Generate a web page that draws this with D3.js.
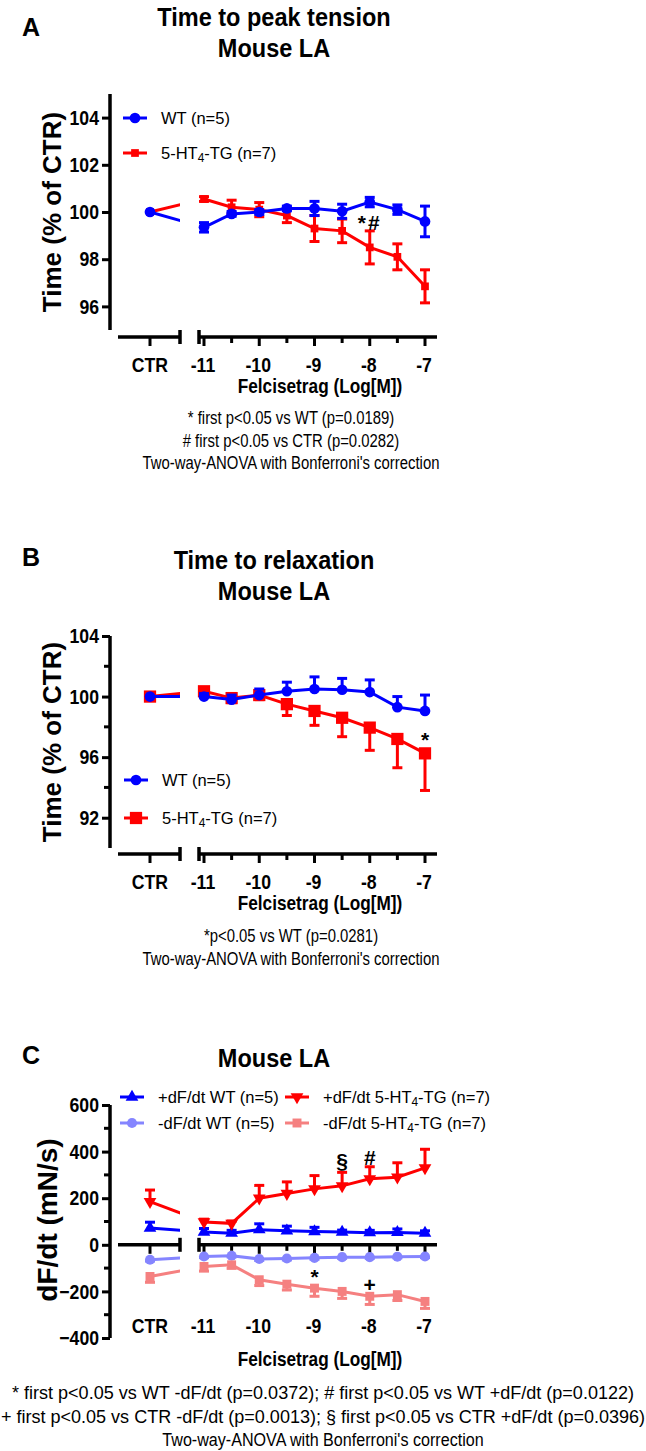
<!DOCTYPE html>
<html>
<head>
<meta charset="utf-8">
<script src="https://cdn.jsdelivr.net/npm/d3@7"></script>
<style>
  body { margin: 0; background: #fff; }
  text { font-family: "Liberation Sans", Arial, sans-serif; fill: #000; }
</style>
</head>
<body>
<div class="chart"></div>
<script>
// doses: CTR first, then log concentrations of felcisetrag
var doses = ["CTR", -11, -10.5, -10, -9.5, -9, -8.5, -8, -7.5, -7];
var concTicks = [-11, -10, -9, -8, -7];
var concMinor = [-10.5, -9.5, -8.5, -7.5];

// Panel A: time to peak tension (% of CTR)
var ttpWT = [100, 99.35, 99.92, 100.0, 100.15, 100.15, 100.03, 100.42, 100.1, 99.6];
var ttpWTerr = [0, 0.2, 0.1, 0.1, 0.1, 0.3, 0.3, 0.2, 0.2, 0.65];
var ttpTG = [100, 100.55, 100.2, 100.1, 99.85, 99.3, 99.2, 98.5, 98.1, 96.85];
var ttpTGerr = [0, 0.1, 0.3, 0.3, 0.3, 0.55, 0.5, 0.7, 0.55, 0.7];

// Panel B: time to relaxation (% of CTR)
var ttrWT = [100, 100.0, 99.8, 100.1, 100.35, 100.5, 100.45, 100.3, 99.3, 99.05];
var ttrWTerr = [0, 0.2, 0.3, 0.4, 0.6, 0.8, 0.75, 0.8, 0.7, 1.05];
var ttrTG = [100, 100.35, 99.9, 100.1, 99.5, 99.05, 98.6, 97.95, 97.2, 96.25];
var ttrTGerr = [0, 0.2, 0.3, 0.3, 0.75, 0.95, 1.25, 1.5, 1.9, 2.45];

// Panel C: dF/dt (mN/s)
var posWT = [72, 55, 50, 65, 60, 57, 55, 52, 53, 50];
var posWTerr = [25, 15, 12, 25, 20, 18, 8, 10, 15, 10];
var posTG = [185, 98, 92, 200, 220, 240, 253, 283, 290, 330];
var posTGerr = [50, 12, 10, 55, 50, 57, 58, 52, 62, 80];
var negWT = [-64, -50, -47, -61, -59, -56, -53, -53, -51, -50];
var negWTerr = [6, 5, 5, 6, 6, 6, 5, 5, 5, 5];
var negTG = [-136, -93, -86, -150, -169, -186, -200, -221, -214, -243];
var negTGerr = [25, 20, 15, 25, 25, 35, 30, 35, 25, 30];

var svg = d3.select(".chart").append("svg")
  .attr("width", 646)
  .attr("height", 1451);

svg.append("defs").append("clipPath")
  .attr("id", "ctrClip")
  .append("rect")
  .attr("x", 0).attr("y", 0).attr("width", 180).attr("height", 1451);

// shared x placement: CTR on its own segment, concentrations on a linear scale
var ctrX = 150;
var xConc = d3.scaleLinear().domain([-11, -7]).range([204, 425]);
function xPos(d) { return d === "CTR" ? ctrX : xConc(d); }

var BLUE = "#0000ff", RED = "#ff0000", LBLUE = "#8585ff", LRED = "#f58080";

function markerPath(type, size) {
  var sym = type === "circle" ? d3.symbolCircle : type === "square" ? d3.symbolSquare : d3.symbolTriangle;
  return d3.symbol().type(sym).size(size)();
}

// the original figure's type is a bit narrow: squeeze text horizontally
function condense(sel, k) {
  sel.each(function () {
    var len = this.getComputedTextLength();
    d3.select(this).attr("textLength", len * k).attr("lengthAdjust", "spacingAndGlyphs");
  });
}

// text with a "4" subscript in 5-HT4
function addLabel(sel, str) {
  var parts = str.split("HT4");
  if (parts.length === 1) { sel.text(str); return; }
  sel.append("tspan").text(parts[0] + "HT");
  sel.append("tspan").attr("baseline-shift", "-22%").attr("font-size", "0.72em").text("4");
  sel.append("tspan").text(parts[1]);
}

function drawPanel(p) {
  var g = svg.append("g");
  var y = d3.scaleLinear().domain(p.yDomain).range(p.yRange);

  // panel letter + title
  g.append("text").attr("x", 22).attr("y", p.letterY).attr("dy", "0.36em")
    .attr("font-size", 25).attr("font-weight", "bold").text(p.letter);
  p.title.forEach(function (t, i) {
    g.append("text").attr("x", 274).attr("y", p.titleY + i * 31).attr("dy", "0.36em")
      .attr("text-anchor", "middle").attr("font-size", 25).attr("font-weight", "bold").text(t)
      .call(condense, 0.94);
  });

  // y axis
  var yAxis = d3.axisLeft(y).tickValues(p.yTicks).tickSize(8).tickPadding(3).tickFormat(d3.format("d"));
  var ya = g.append("g").attr("transform", "translate(110,0)").call(yAxis);
  ya.select(".domain").attr("stroke-width", 3.5).attr("d", "M0," + y(p.yDomain[0]) + "V" + y(p.yDomain[1]));
  ya.selectAll(".tick line").attr("stroke-width", 3);
  ya.selectAll(".tick text").attr("font-size", 21).attr("font-weight", "bold")
    .attr("font-family", "'Liberation Sans', Arial, sans-serif").call(condense, 0.84);
  p.yMinor.forEach(function (v) {
    g.append("line").attr("x1", 104).attr("x2", 110).attr("y1", y(v)).attr("y2", y(v))
      .attr("stroke", "#000").attr("stroke-width", 3);
  });

  // y title
  g.append("text")
    .attr("transform", "translate(" + p.yTitleX + "," + p.yTitleY + ") rotate(-90)")
    .attr("text-anchor", "middle").attr("dy", "0.36em")
    .attr("font-size", p.yTitleSize).attr("font-weight", "bold").text(p.yTitle);

  // broken x axis
  var ax = p.xAxisY !== undefined ? p.xAxisY : y(0);
  var xa = g.append("g").attr("stroke", "#000");
  xa.append("line").attr("x1", 118).attr("x2", 180).attr("y1", ax).attr("y2", ax).attr("stroke-width", 3.5);
  xa.append("line").attr("x1", 199).attr("x2", 437).attr("y1", ax).attr("y2", ax).attr("stroke-width", 3.5);
  [180, 199].forEach(function (cx) {
    xa.append("line").attr("x1", cx).attr("x2", cx).attr("y1", ax - 7).attr("y2", ax + 7).attr("stroke-width", 3.5);
  });
  ["CTR"].concat(concTicks).forEach(function (d) {
    xa.append("line").attr("x1", xPos(d)).attr("x2", xPos(d)).attr("y1", ax).attr("y2", ax + 9).attr("stroke-width", 3);
  });
  concMinor.forEach(function (d) {
    xa.append("line").attr("x1", xPos(d)).attr("x2", xPos(d)).attr("y1", ax).attr("y2", ax + 6).attr("stroke-width", 3);
  });
  ["CTR"].concat(concTicks).forEach(function (d) {
    g.append("text").attr("x", xPos(d) + (d === "CTR" ? 0 : -1)).attr("y", p.xLabelY).attr("dy", "0.36em")
      .attr("text-anchor", "middle").attr("font-size", 21).attr("font-weight", "bold").text(d)
      .call(condense, 0.84);
  });
  g.append("text").attr("x", 320).attr("y", p.xTitleY).attr("dy", "0.36em")
    .attr("text-anchor", "middle").attr("font-size", 21).attr("font-weight", "bold").text("Felcisetrag (Log[M])")
    .call(condense, 0.82);

  // series
  p.series.forEach(function (s) {
    var sg = g.append("g");
    var pts = doses.map(function (d, i) { return { d: d, v: s.values[i], e: s.errors[i] }; });
    var line = d3.line().x(function (q) { return xPos(q.d); }).y(function (q) { return y(q.v); });

    // CTR -> -11 connection, cut at the axis break
    sg.append("path").datum(pts.slice(0, 2)).attr("d", line).attr("clip-path", "url(#ctrClip)")
      .attr("fill", "none").attr("stroke", s.color).attr("stroke-width", 3);
    sg.append("path").datum(pts.slice(1)).attr("d", line)
      .attr("fill", "none").attr("stroke", s.color).attr("stroke-width", 3);

    // error bars
    pts.forEach(function (q) {
      if (!q.e) return;
      var dirs = s.errDir === "both" ? [1, -1] : s.errDir === "up" ? [1] : [-1];
      dirs.forEach(function (k) {
        var ye = y(q.v + k * q.e);
        sg.append("line").attr("x1", xPos(q.d)).attr("x2", xPos(q.d)).attr("y1", y(q.v)).attr("y2", ye)
          .attr("stroke", s.color).attr("stroke-width", 3);
        sg.append("line").attr("x1", xPos(q.d) - 5).attr("x2", xPos(q.d) + 5).attr("y1", ye).attr("y2", ye)
          .attr("stroke", s.color).attr("stroke-width", 3);
      });
    });

    // markers
    sg.selectAll("path.m").data(pts).enter().append("path")
      .attr("class", "m")
      .attr("d", markerPath(s.marker, s.size))
      .attr("transform", function (q) {
        return "translate(" + xPos(q.d) + "," + y(q.v) + ")" + (s.flip ? " rotate(180)" : "");
      })
      .attr("fill", s.color);
  });

  // significance marks
  p.marks.forEach(function (m) {
    g.append("text").attr("x", xPos(m.dose)).attr("y", y(m.value)).attr("dy", "0.36em")
      .attr("text-anchor", "middle").attr("font-size", 21).attr("font-weight", "bold")
      .attr("letter-spacing", m.text.length > 1 ? 2 : 0).text(m.text);
  });

  // legend
  p.legend.forEach(function (l) {
    var s = p.series[l.idx];
    g.append("line").attr("x1", l.x).attr("x2", l.x + 24).attr("y1", l.y).attr("y2", l.y)
      .attr("stroke", s.color).attr("stroke-width", 3);
    g.append("path").attr("d", markerPath(s.marker, s.size))
      .attr("transform", "translate(" + (l.x + 12) + "," + l.y + ")" + (s.flip ? " rotate(180)" : ""))
      .attr("fill", s.color);
    var t = g.append("text").attr("x", l.x + 38).attr("y", l.y).attr("dy", "0.36em").attr("font-size", 16.5);
    addLabel(t, s.name);
  });

  // footnotes
  p.notes.forEach(function (n, i) {
    g.append("text").attr("x", p.noteX).attr("y", p.noteY + i * p.noteGap).attr("dy", "0.36em")
      .attr("text-anchor", "middle").attr("font-size", p.noteSize).text(n)
      .call(condense, p.noteK[i]);
  });
}

drawPanel({
  letter: "A", letterY: 27, title: ["Time to peak tension", "Mouse LA"], titleY: 17,
  yDomain: [95, 105], yRange: [330, 94], yTicks: [96, 98, 100, 102, 104], yMinor: [],
  yTitle: "Time (% of CTR)", yTitleSize: 26, yTitleX: 52, yTitleY: 212,
  xAxisY: 337, xLabelY: 364, xTitleY: 385,
  series: [
    { name: "5-HT4-TG (n=7)", values: ttpTG, errors: ttpTGerr, color: RED, marker: "square", size: 60, errDir: "both" },
    { name: "WT (n=5)", values: ttpWT, errors: ttpWTerr, color: BLUE, marker: "circle", size: 90, errDir: "both" }
  ],
  marks: [{ dose: -8, value: 99.55, text: "*#" }],
  legend: [{ idx: 1, x: 123, y: 118 }, { idx: 0, x: 123, y: 153 }],
  notes: ["* first p<0.05 vs WT (p=0.0189)", "# first p<0.05 vs CTR (p=0.0282)", "Two-way-ANOVA with Bonferroni's correction"],
  noteX: 291, noteY: 418, noteGap: 22.5, noteSize: 17.5, noteK: [0.85, 0.85, 0.85]
});

drawPanel({
  letter: "B", letterY: 557, title: ["Time to relaxation", "Mouse LA"], titleY: 560,
  yDomain: [90, 104], yRange: [848, 636], yTicks: [92, 96, 100, 104], yMinor: [94, 98, 102],
  yTitle: "Time (% of CTR)", yTitleSize: 26, yTitleX: 52, yTitleY: 742,
  xAxisY: 854, xLabelY: 881, xTitleY: 902,
  series: [
    { name: "5-HT4-TG (n=7)", values: ttrTG, errors: ttrTGerr, color: RED, marker: "square", size: 150, errDir: "down" },
    { name: "WT (n=5)", values: ttrWT, errors: ttrWTerr, color: BLUE, marker: "circle", size: 90, errDir: "up" }
  ],
  marks: [{ dose: -7, value: 97.2, text: "*" }],
  legend: [{ idx: 1, x: 124, y: 780 }, { idx: 0, x: 124, y: 818 }],
  notes: ["*p<0.05 vs WT (p=0.0281)", "Two-way-ANOVA with Bonferroni's correction"],
  noteX: 291, noteY: 936, noteGap: 22.5, noteSize: 17.5, noteK: [0.85, 0.85]
});

drawPanel({
  letter: "C", letterY: 1055, title: ["Mouse LA"], titleY: 1058,
  yDomain: [-400, 600], yRange: [1338, 1105], yTicks: [-400, -200, 0, 200, 400, 600], yMinor: [-300, -100, 100, 300, 500],
  yTitle: "dF/dt (mN/s)", yTitleSize: 28, yTitleX: 47, yTitleY: 1220,
  xLabelY: 1325, xTitleY: 1358,
  series: [
    { name: "-dF/dt WT (n=5)", values: negWT, errors: negWTerr, color: LBLUE, marker: "circle", size: 80, errDir: "down" },
    { name: "-dF/dt 5-HT4-TG (n=7)", values: negTG, errors: negTGerr, color: LRED, marker: "square", size: 80, errDir: "down" },
    { name: "+dF/dt WT (n=5)", values: posWT, errors: posWTerr, color: BLUE, marker: "triangle", size: 70, errDir: "up" },
    { name: "+dF/dt 5-HT4-TG (n=7)", values: posTG, errors: posTGerr, color: RED, marker: "triangle", size: 70, errDir: "up", flip: true }
  ],
  marks: [
    { dose: -8.5, value: 364, text: "§" }, { dose: -8, value: 377, text: "#" },
    { dose: -9, value: -137, text: "*" }, { dose: -8, value: -171, text: "+" }
  ],
  legend: [{ idx: 2, x: 120, y: 1097 }, { idx: 0, x: 120, y: 1123 }, { idx: 3, x: 285, y: 1097 }, { idx: 1, x: 285, y: 1123 }],
  notes: ["* first p<0.05 vs WT -dF/dt (p=0.0372); # first p<0.05 vs WT +dF/dt (p=0.0122)",
          "+ first p<0.05 vs CTR -dF/dt (p=0.0013); § first p<0.05 vs CTR +dF/dt (p=0.0396)",
          "Two-way-ANOVA with Bonferroni's correction"],
  noteX: 323, noteY: 1393, noteGap: 23.5, noteSize: 17.5, noteK: [1.03, 1.03, 0.92]
});
</script>
</body>
</html>
